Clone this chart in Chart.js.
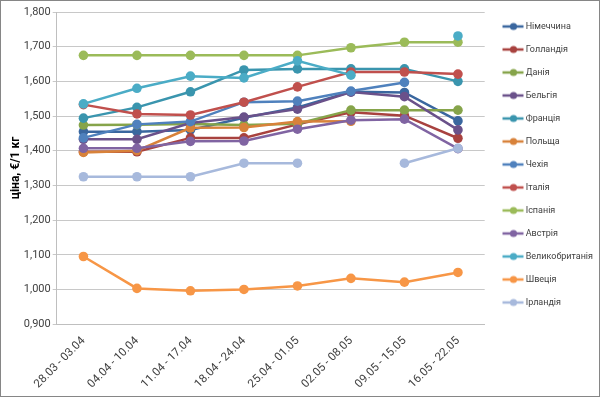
<!DOCTYPE html>
<html><head><meta charset="utf-8">
<script src="https://cdn.jsdelivr.net/npm/chart.js@4"></script>
<style>
html,body{margin:0;padding:0;background:#fff}
#wrap{width:600px;height:397px;box-sizing:border-box;border:1px solid #868686}
canvas{display:block}
</style></head>
<body><div id="wrap"><canvas id="c" width="598" height="395"></canvas></div>
<script>
const categories = ['28.03 - 03.04','04.04 - 10.04','11.04 - 17.04','18.04 - 24.04','25.04 - 01.05','02.05 - 08.05','09.05 - 15.05','16.05 - 22.05'];
const yTickLabels = ['0,900','1,000','1,100','1,200','1,300','1,400','1,500','1,600','1,700','1,800'];
const seriesNames = ['Німеччина','Голландія','Данія','Бельгія','Франція','Польща','Чехія','Італія','Іспанія','Австрія','Великобританія','Швеція','Ірландія'];
const germany     = [1.455, 1.455, 1.460, 1.495, 1.525, 1.570, 1.568, 1.486];
const netherlands = [1.397, 1.397, 1.437, 1.437, 1.476, 1.511, 1.501, 1.436];
const denmark     = [1.474, 1.475, 1.477, 1.474, 1.478, 1.517, 1.517, 1.517];
const belgium     = [1.433, 1.433, 1.480, 1.497, 1.520, 1.569, 1.556, 1.460];
const france      = [1.494, 1.525, 1.570, 1.633, 1.636, 1.636, 1.636, 1.600];
const poland      = [1.395, 1.400, 1.466, 1.467, 1.484, 1.485, null, null];
const czechia     = [1.437, 1.476, 1.484, 1.540, 1.543, 1.572, 1.597, null];
const italy       = [1.533, 1.506, 1.503, 1.540, 1.584, 1.627, 1.627, 1.621];
const spain       = [1.675, 1.675, 1.675, 1.675, 1.675, 1.697, 1.713, 1.713];
const austria     = [1.407, 1.407, 1.427, 1.428, 1.462, 1.488, 1.491, 1.406];
const uk          = [1.535, 1.580, 1.615, 1.610, 1.659, 1.618, null, 1.731];
const sweden      = [1.095, 1.003, 0.996, 1.000, 1.010, 1.032, 1.021, 1.049];
const ireland     = [1.325, 1.325, 1.325, 1.364, 1.364, null, 1.364, 1.407];
const seriesValues = [germany, netherlands, denmark, belgium, france, poland, czechia, italy, spain, austria, uk, sweden, ireland];
const seriesColors = ['#3A679F','#A8423F','#86A44A','#6A518A','#3A95AE','#D8823A','#4F81BD','#C0504D','#9BBB59','#8064A2','#4BACC6','#F79646','#A7B9DC'];

function legendIcon(color){
  const cv = document.createElement('canvas');
  cv.width = 28; cv.height = 10;
  const g = cv.getContext('2d');
  g.strokeStyle = color; g.lineWidth = 2.5;
  g.beginPath(); g.moveTo(6.5, 5); g.lineTo(27.5, 5); g.stroke();
  g.fillStyle = color; g.beginPath(); g.arc(17.5, 5, 3.6, 0, Math.PI*2); g.fill();
  return cv;
}
const icons = seriesColors.map(legendIcon);

const datasets = seriesNames.map((name, i) => ({
  label: name,
  data: seriesValues[i],
  borderColor: seriesColors[i],
  backgroundColor: seriesColors[i],
  pointBackgroundColor: seriesColors[i],
  pointBorderColor: seriesColors[i],
  borderWidth: 2.5,
  pointRadius: 4.8,
  pointBorderWidth: 0,
  tension: 0,
  spanGaps: false,
  order: seriesNames.length - i
}));

const txt = '#404040';
new Chart(document.getElementById('c'), {
  type: 'line',
  data: { labels: categories, datasets },
  options: {
    responsive: false,
    devicePixelRatio: 1,
    animation: false,
    layout: { padding: { top: 7, left: 10, right: -4, bottom: 3 } },
    plugins: {
      tooltip: { enabled: false },
      legend: {
        position: 'right',
        align: 'start',
        labels: {
          usePointStyle: true,
          pointStyleWidth: 22.5,
          padding: 14,
          color: txt,
          font: { family: 'Roboto', size: 9 },
          sort: (a, b) => a.datasetIndex - b.datasetIndex,
          generateLabels: (chart) => {
            const items = Chart.defaults.plugins.legend.labels.generateLabels(chart);
            items.forEach(it => { it.pointStyle = icons[it.datasetIndex]; });
            return items;
          }
        }
      }
    },
    scales: {
      x: {
        offset: true,
        grid: { display: false },
        border: { display: true, color: '#BFBFBF' },
        ticks: { color: txt, font: { family: 'Roboto', size: 11.5 }, minRotation: 45, maxRotation: 45, padding: 2 }
      },
      y: {
        min: 0.9, max: 1.8,
        grid: { color: '#C8C8C8', tickLength: 4 },
        border: { display: true, color: '#BFBFBF' },
        ticks: {
          stepSize: 0.1,
          color: txt,
          padding: 2,
          font: { family: 'Roboto', size: 11, lineHeight: 1.64 },
          callback: (v, idx) => yTickLabels[idx]
        },
        title: { display: true, text: 'ціна, €/1 кг', color: '#000', font: { family: 'Roboto', size: 12, weight: 'bold', lineHeight: 0.9 }, padding: 0 }
      }
    }
  }
});
</script>
</body></html>
